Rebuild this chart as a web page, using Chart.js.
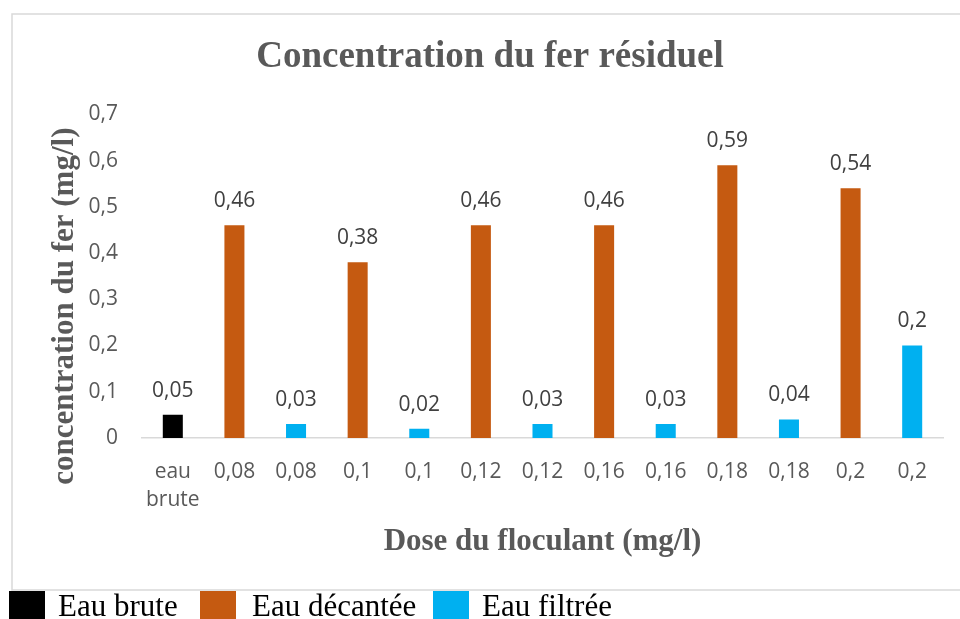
<!DOCTYPE html>
<html>
<head>
<meta charset="utf-8">
<script src="https://cdn.jsdelivr.net/npm/chart.js@4.4.1/dist/chart.umd.min.js"></script>
<style>
    body { margin: 0; width: 960px; height: 619px; overflow: hidden; background: #fff; position: relative; }
    #wrap { position: absolute; left: 0; top: 0; width: 960px; height: 591px; }
    .lg-box { position: absolute; top: 591px; width: 36px; height: 36px; }
    .lg-text { position: absolute; top: 589px; font-family: "Liberation Serif", serif; font-size: 31px; line-height: 34px; color: #000; white-space: nowrap; }
</style>
</head>
<body>
<div id="wrap"><canvas id="ferChart"></canvas></div>
<div id="legend"></div>
<script>
const categories = [['eau', 'brute'], '0,08', '0,08', '0,1', '0,1', '0,12', '0,12', '0,16', '0,16', '0,18', '0,18', '0,2', '0,2'];
const eauBrute = [0.05, null, null, null, null, null, null, null, null, null, null, null, null];
const eauDecantee = [null, 0.46, null, 0.38, null, 0.46, null, 0.46, null, 0.59, null, 0.54, null];
const eauFiltree = [null, null, 0.03, null, 0.02, null, 0.03, null, 0.03, null, 0.04, null, 0.2];
const seriesNames = ['Eau brute', 'Eau décantée', 'Eau filtrée'];
const seriesColors = ['#000000', '#C55A11', '#00B0F0'];

const grey = '#595959';

// legend below the chart frame
const legendPos = [[9, 58], [200, 252], [433, 482]];
const legend = document.getElementById('legend');
seriesNames.forEach(function (name, i) {
    legend.innerHTML += '<div class="lg-box" style="left:' + legendPos[i][0] + 'px;background:' + seriesColors[i] + '"></div>' +
        '<div class="lg-text" style="left:' + legendPos[i][1] + 'px">' + name + '</div>';
});

function fmt(v) {
    return String(Math.round(v * 100) / 100).replace('.', ',');
}

const framePlugin = {
    id: 'frame',
    beforeDraw(chart) {
        const ctx = chart.ctx;
        ctx.save();
        ctx.fillStyle = '#ffffff';
        ctx.fillRect(0, 0, chart.width, chart.height);
        ctx.strokeStyle = '#D9D9D9';
        ctx.lineWidth = 1.5;
        ctx.strokeRect(12, 14, 960, 576);
        ctx.restore();
    }
};

const yTitlePlugin = {
    id: 'yTitle',
    afterDraw(chart) {
        const ctx = chart.ctx;
        const a = chart.chartArea;
        ctx.save();
        ctx.translate(65, (a.top + a.bottom) / 2 + 30);
        ctx.rotate(-Math.PI / 2);
        ctx.font = 'bold 31px "Liberation Serif"';
        ctx.fillStyle = grey;
        ctx.textAlign = 'center';
        ctx.textBaseline = 'middle';
        ctx.fillText('concentration du fer (mg/l)', 0, 0);
        ctx.restore();
    }
};

const valueLabels = {
    id: 'valueLabels',
    afterDatasetsDraw(chart) {
        const ctx = chart.ctx;
        ctx.save();
        ctx.font = '21px "Open Sans"';
        ctx.fillStyle = '#404040';
        ctx.textAlign = 'center';
        ctx.textBaseline = 'middle';
        chart.data.datasets.forEach(function (ds, i) {
            chart.getDatasetMeta(i).data.forEach(function (bar, j) {
                if (ds.data[j] === null) return;
                ctx.fillText(fmt(ds.data[j]), bar.x, bar.y - 24);
            });
        });
        ctx.restore();
    }
};

const tickFont = { family: 'Open Sans', size: 21, lineHeight: 1.33 };
const ctx = document.getElementById('ferChart');
new Chart(ctx, {
    type: 'bar',
    data: {
        labels: categories,
        datasets: [eauBrute, eauDecantee, eauFiltree].map(function (d, i) {
            return {
                label: seriesNames[i],
                data: d,
                backgroundColor: seriesColors[i],
                barPercentage: 0.325,
                categoryPercentage: 1
            };
        })
    },
    options: {
        responsive: true,
        maintainAspectRatio: false,
        animation: false,
        layout: { padding: { left: 37, right: 17, top: 14, bottom: 0 } },
        plugins: {
            legend: { display: false },
            tooltip: { enabled: false },
            title: {
                display: true,
                text: 'Concentration du fer résiduel',
                color: grey,
                font: { family: 'Liberation Serif', size: 37, weight: 'bold' },
                padding: { top: 21, bottom: 35 }
            }
        },
        scales: {
            x: {
                stacked: true,
                grid: { display: false, drawTicks: false },
                border: { display: true, color: '#D9D9D9', width: 1.5 },
                ticks: { color: grey, font: tickFont, padding: 20, maxRotation: 0, autoSkip: false },
                title: {
                    display: true,
                    text: 'Dose du floculant (mg/l)',
                    color: grey,
                    font: { family: 'Liberation Serif', size: 31, weight: 'bold' },
                    padding: { top: -10, bottom: 30 }
                }
            },
            y: {
                stacked: true,
                min: 0,
                max: 0.7,
                grid: { display: false, drawTicks: false },
                border: { display: false },
                ticks: {
                    stepSize: 0.1,
                    color: grey,
                    font: tickFont,
                    padding: 24,
                    callback: function (v) { return fmt(v); }
                },
                afterFit: function (scale) { scale.width = 105; }
            }
        }
    },
    plugins: [framePlugin, yTitlePlugin, valueLabels]
});
</script>
</body>
</html>
